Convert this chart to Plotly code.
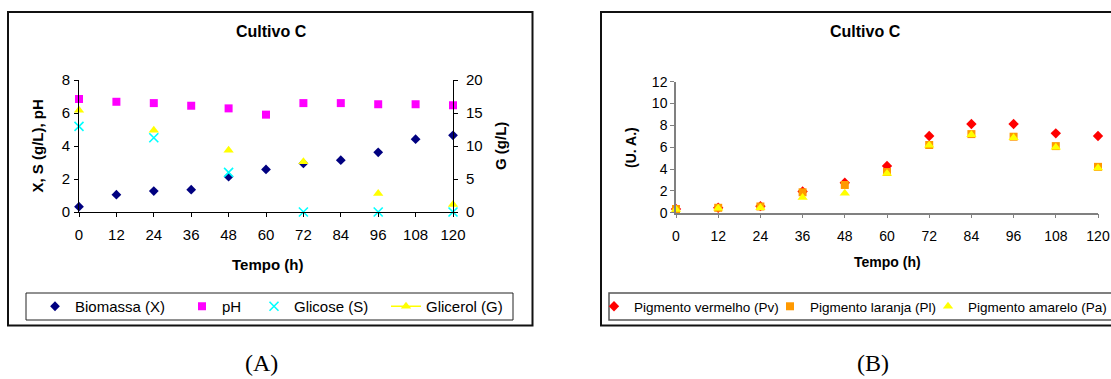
import plotly.graph_objects as go

W, H = 1111, 379


def fx(p):
    return p / W


def fy(p):
    return 1 - p / H


FONT = "Liberation Sans, Arial, sans-serif"

# ---- Cultivo C: biomassa, pH, glicose e glicerol ----
tempo = [0, 12, 24, 36, 48, 60, 72, 84, 96, 108, 120]
biomassa = [0.32, 1.05, 1.27, 1.35, 2.14, 2.58, 2.94, 3.14, 3.62, 4.41, 4.65]
ph = [6.85, 6.68, 6.60, 6.44, 6.28, 5.90, 6.60, 6.60, 6.53, 6.53, 6.47]

tempo_sg = [0, 24, 48, 72, 96, 120]
glicose = [5.19, 4.50, 2.40, 0.0, 0.0, 0.0]
glicerol = [15.4, 12.4, 9.35, 7.6, 2.8, 1.15]

# ---- Cultivo C: pigmentos (U. A.) ----
pig_vermelho = [0.34, 0.45, 0.60, 1.95, 2.75, 4.28, 7.02, 8.12, 8.12, 7.27, 7.02]
pig_laranja = [0.34, 0.45, 0.57, 1.87, 2.54, 3.73, 6.20, 7.20, 6.96, 6.10, 4.20]
pig_amarelo = [0.30, 0.40, 0.45, 1.40, 1.78, 3.60, 6.17, 7.14, 6.87, 6.00, 4.10]

ticks_x = [0, 12, 24, 36, 48, 60, 72, 84, 96, 108, 120]

fig = go.Figure()

# Panel A
fig.add_trace(go.Scatter(
    x=tempo, y=biomassa, name="Biomassa (X)", mode="markers",
    marker=dict(symbol="diamond", size=7.5, color="#000080"),
    xaxis="x", yaxis="y", legend="legend", cliponaxis=False))
fig.add_trace(go.Scatter(
    x=tempo, y=ph, name="pH", mode="markers",
    marker=dict(symbol="square", size=8, color="#FF00FF"),
    xaxis="x", yaxis="y", legend="legend2", cliponaxis=False))
fig.add_trace(go.Scatter(
    x=tempo_sg, y=glicose, name="Glicose (S)", mode="markers",
    marker=dict(symbol="x-thin", size=9, color="#00FFFF",
                line=dict(color="#00FFFF", width=1.6)),
    xaxis="x", yaxis="y", legend="legend3", cliponaxis=False))
fig.add_trace(go.Scatter(
    x=tempo_sg, y=glicerol, name="Glicerol (G)", mode="markers",
    marker=dict(symbol="triangle-up", size=9, color="#FFFF00"),
    xaxis="x", yaxis="y2", showlegend=False, cliponaxis=False))
# legend key for glicerol (line + marker style)
fig.add_trace(go.Scatter(
    x=[None], y=[None], name="Glicerol (G)", mode="lines+markers",
    line=dict(color="#FFFF00", width=1.5),
    marker=dict(symbol="triangle-up", size=9, color="#FFFF00"),
    xaxis="x", yaxis="y2", legend="legend4"))

# Panel B
fig.add_trace(go.Scatter(
    x=tempo, y=pig_vermelho, name="Pigmento vermelho (Pv)", mode="markers",
    marker=dict(symbol="diamond", size=8, color="#FF0000"),
    xaxis="x2", yaxis="y3", legend="legend5", cliponaxis=False))
fig.add_trace(go.Scatter(
    x=tempo, y=pig_laranja, name="Pigmento laranja (Pl)", mode="markers",
    marker=dict(symbol="square", size=8, color="#FF9900"),
    xaxis="x2", yaxis="y3", legend="legend6", cliponaxis=False))
fig.add_trace(go.Scatter(
    x=tempo, y=pig_amarelo, name="Pigmento amarelo (Pa)", mode="markers",
    marker=dict(symbol="triangle-up", size=9, color="#FFFF00"),
    xaxis="x2", yaxis="y3", legend="legend7", cliponaxis=False))


def axis(**kw):
    base = dict(showline=True, linewidth=1, ticks="outside", ticklen=4,
                showgrid=False, zeroline=False, fixedrange=True)
    base.update(kw)
    return base


tfA = dict(family=FONT, size=15, color="black")
tfB = dict(family=FONT, size=14, color="black")

layout = dict(
    width=W, height=H,
    margin=dict(l=0, r=0, t=0, b=0, autoexpand=False),
    paper_bgcolor="white", plot_bgcolor="rgba(0,0,0,0)",
    font=dict(family=FONT, color="black"),
    xaxis=axis(domain=[fx(79), fx(453)], range=[0, 120], tickvals=ticks_x,
               anchor="y", linecolor="black", tickcolor="black", tickfont=tfA,
               ticklabelstandoff=5),
    yaxis=axis(domain=[fy(212), fy(80)], range=[0, 8], dtick=2, anchor="x",
               linecolor="black", tickcolor="black", tickfont=tfA,
               ticklabelstandoff=1),
    yaxis2=axis(range=[0, 20], dtick=5, anchor="x", overlaying="y", side="right",
                linecolor="black", tickcolor="black", tickfont=tfA,
                ticklabelstandoff=5),
    xaxis2=axis(domain=[fx(676), fx(1098)], range=[0, 120], tickvals=ticks_x,
                anchor="y3", linecolor="#808080", tickcolor="#808080",
                linewidth=1.5, tickfont=tfB, ticklabelstandoff=6),
    yaxis3=axis(domain=[fy(212.7), fy(81.7)], range=[0, 12], dtick=2,
                anchor="x2", linecolor="#808080", tickcolor="#808080",
                linewidth=1.5, tickfont=tfB),
)

# one legend per entry so each key sits where it belongs in its box
leg_y = fy(306.5)
legend_specs = [
    ("legend", 35, 15), ("legend2", 182, 15), ("legend3", 254, 15),
    ("legend4", 386, 15), ("legend5", 594, 13.5), ("legend6", 770, 13.5),
    ("legend7", 928, 13.5),
]
for key, xpos, fsize in legend_specs:
    layout[key] = dict(x=fx(xpos), y=leg_y, xanchor="left", yanchor="middle",
                       orientation="h", bgcolor="rgba(0,0,0,0)", borderwidth=0,
                       font=dict(family=FONT, size=fsize, color="black"))

fig.update_layout(**layout)

# chart frames and legend boxes
shapes = [
    dict(type="rect", xref="paper", yref="paper", x0=fx(8), x1=fx(532.5),
         y0=fy(325.5), y1=fy(12), line=dict(color="#111111", width=2)),
    dict(type="rect", xref="paper", yref="paper", x0=fx(601), x1=fx(1125),
         y0=fy(325.5), y1=fy(12), line=dict(color="#111111", width=2)),
    dict(type="rect", xref="paper", yref="paper", x0=fx(26), x1=fx(513),
         y0=fy(320), y1=fy(293), line=dict(color="#222222", width=1)),
    dict(type="rect", xref="paper", yref="paper", x0=fx(609), x1=fx(1120),
         y0=fy(320), y1=fy(293), line=dict(color="#555555", width=1.5)),
]
fig.update_layout(shapes=shapes)


def label(text, x, y, size, bold=True, angle=0, family=FONT):
    t = f"<b>{text}</b>" if bold else text
    return dict(text=t, x=fx(x), y=fy(y), xref="paper", yref="paper",
                xanchor="center", yanchor="middle", showarrow=False,
                textangle=angle, font=dict(family=family, size=size, color="black"))


SERIF = "Liberation Serif, Times New Roman, serif"
annotations = [
    label("Cultivo C", 271.5, 32, 16),
    label("Cultivo C", 865, 32, 16),
    label("X, S (g/L), pH", 37, 146.5, 15, angle=-90),
    label("G (g/L)", 500, 146, 15, angle=-90),
    label("Tempo (h)", 267, 264, 15),
    label("(U. A.)", 631, 148, 14, angle=-90),
    label("Tempo (h)", 887, 262, 14),
    label("(A)", 261, 362.5, 24, bold=False, family=SERIF),
    label("(B)", 873, 362.5, 24, bold=False, family=SERIF),
]
fig.update_layout(annotations=annotations)

fig.write_html("out.html")
